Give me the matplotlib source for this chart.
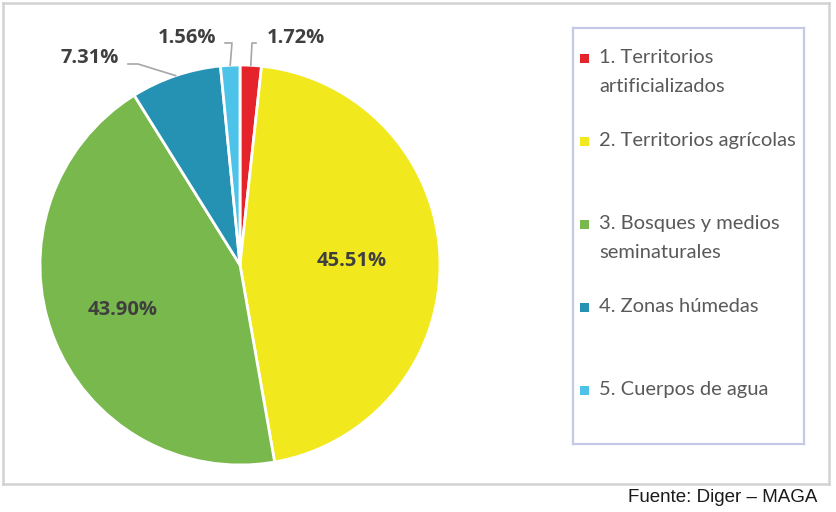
import numpy as np
import matplotlib.pyplot as plt
from matplotlib.patches import Rectangle

labels = ["1. Territorios\nartificializados", "2. Territorios agrícolas",
          "3. Bosques y medios\nseminaturales", "4. Zonas húmedas", "5. Cuerpos de agua"]
values = [1.72, 45.51, 43.90, 7.31, 1.56]
colors = ["#E5232B", "#F2E81E", "#79B84D", "#2591B3", "#4EC3EA"]
source = "Fuente: Diger – MAGA"

W, H = 836, 512
fig = plt.figure(figsize=(W / 100, H / 100), dpi=100)
fig.patch.set_facecolor("white")

# outer frame
frame = fig.add_axes([3 / W, 1 - 484 / H, (829 - 3) / W, (484 - 3) / H])
frame.set_xticks([]); frame.set_yticks([])
frame.patch.set_alpha(0)
for s in frame.spines.values():
    s.set_color("#D2D2D2"); s.set_linewidth(1.8)

# pie axes: center (240,265) px, radius 200 px
cx, cy, r = 240, 265, 200
ax = fig.add_axes([(cx - r) / W, 1 - (cy + r) / H, 2 * r / W, 2 * r / H])
wedges, _ = ax.pie(values, colors=colors, startangle=90, counterclock=False,
                   wedgeprops=dict(edgecolor="white", linewidth=2))
ax.set_xlim(-1, 1); ax.set_ylim(-1, 1)
ax.set_aspect("equal")
ax.set_axis_off()

lab_font = dict(family="Open Sans", fontweight="bold", fontsize=14.5, color="#3F3F3F")

def mid(w):
    return np.deg2rad((w.theta1 + w.theta2) / 2)

# inside labels
for i, rad in [(1, 0.56), (2, 0.63)]:
    a = mid(wedges[i])
    ax.text(rad * np.cos(a), rad * np.sin(a), f"{values[i]:.2f}%",
            ha="center", va="center", **lab_font)

# outside labels with leader lines: (index, elbow, text position)
outside = [(3, (-0.51, 1.005), (-0.75, 1.035), "right"),
           (4, (-0.04, 1.11), (-0.265, 1.135), "right"),
           (0, (0.06, 1.11), (0.28, 1.135), "left")]
for i, elbow, tpos, side in outside:
    a = mid(wedges[i])
    px, py = np.cos(a), np.sin(a)
    if side == "right":
        endx = tpos[0] + 0.19
    else:
        endx = tpos[0] - 0.2
    ax.plot([px, elbow[0], endx], [py, elbow[1], elbow[1]], color="#A6A6A6",
            linewidth=1.2, clip_on=False)
    ax.text(tpos[0], tpos[1], f"{values[i]:.2f}%", ha="center", va="center",
            clip_on=False, **lab_font)

# legend box
lx0, ly0, lx1, ly1 = 573, 28, 804, 444
lax = fig.add_axes([lx0 / W, 1 - ly1 / H, (lx1 - lx0) / W, (ly1 - ly0) / H])
lax.set_xlim(0, lx1 - lx0); lax.set_ylim(ly1 - ly0, 0)
lax.set_xticks([]); lax.set_yticks([])
for s in lax.spines.values():
    s.set_color("#C5C9E6"); s.set_linewidth(1.6)

entry_y = [58, 141, 224, 307, 390]
for lab, col, yy in zip(labels, colors, entry_y):
    y = yy - ly0
    lax.add_patch(Rectangle((7, y - 4), 9, 9, facecolor=col, edgecolor="none"))
    lax.text(26, y - 9, lab, ha="left", va="top", fontsize=14.5, family="Lato",
             color="#595959", linespacing=1.85)

fig.text(817 / W, 1 - 498 / H, source, ha="right", va="center",
         family="Liberation Sans", fontsize=13.5, color="#1A1A1A")

fig.savefig("out.png", dpi=100)
